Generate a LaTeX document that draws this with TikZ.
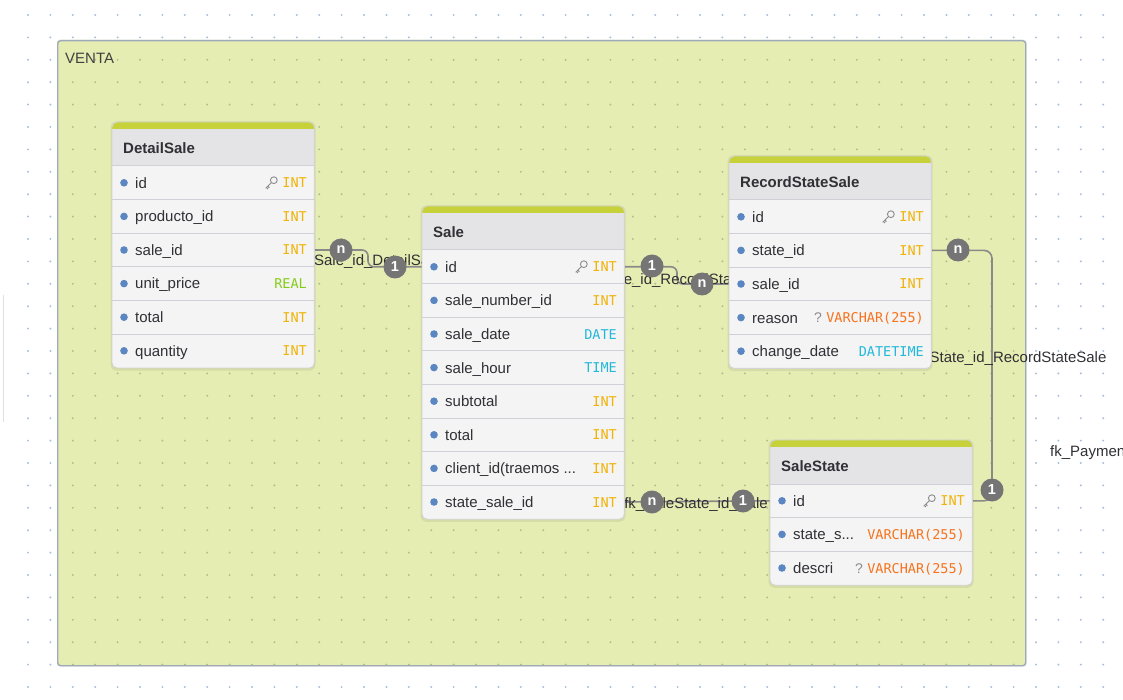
\documentclass[tikz,border=0pt]{standalone}
\usepackage{fontspec}
\setmainfont{Liberation Sans}
\newfontfamily\monof{DejaVu Sans Mono}
\definecolor{framefill}{HTML}{E6EDB2}
\definecolor{frameline}{HTML}{9FA9BA}
\definecolor{griddot}{HTML}{A9BFDB}
\definecolor{griddotin}{HTML}{AFC08F}
\definecolor{hdrfill}{HTML}{E4E4E7}
\definecolor{rowfill}{HTML}{F4F4F5}
\definecolor{sepcol}{HTML}{D0D0D6}
\definecolor{barcol}{HTML}{C7D23A}
\definecolor{tint}{HTML}{F0B306}
\definecolor{treal}{HTML}{86CB17}
\definecolor{tdate}{HTML}{22B8D8}
\definecolor{tvarc}{HTML}{F7731C}
\definecolor{bulletcol}{HTML}{5A86C2}
\definecolor{conncol}{HTML}{8A8A8A}
\definecolor{badgecol}{HTML}{757575}
\definecolor{txtcol}{HTML}{303035}
\tikzset{
  tabbody/.style={rectangle, rounded corners=5, fill=rowfill, minimum width=202, inner sep=0, anchor=north west},
  tabborder/.style={draw=black!17, line width=0.9},
  sepline/.style={draw=sepcol, line width=1.0},
  rowbox/.style={rectangle, minimum width=202, minimum height=33.6, inner sep=0, anchor=west},
  fieldtxt/.style={anchor=base west, inner sep=0, text=txtcol, font=\fontsize{15}{18}\selectfont},
  typetxt/.style={anchor=base east, inner sep=0, font=\monof\fontsize{13.5}{16}\selectfont},
  qmark/.style={anchor=base, inner sep=0, text=black!45, font=\fontsize{14}{16}\selectfont},
  titletxt/.style={anchor=base west, inner sep=0, text=txtcol, font=\bfseries\fontsize{15}{18}\selectfont},
  connline/.style={draw=conncol, line width=1.6},
  badge/.style={circle, fill=badgecol, text=white, inner sep=0, minimum size=23, font=\bfseries\fontsize{14.5}{16}\selectfont},
  elabel/.style={inner sep=0, text=txtcol, font=\fontsize{15}{18}\selectfont},
  keyicon/.pic={
    \draw[black!45, line width=0.9] (2.6,-2.6) circle (3.4);
    \draw[black!45, line width=0.9] (0.2,-0.2) -- (-5.5,5.5);
    \draw[black!45, line width=0.9] (-3.4,3.4) -- (-1.8,5.0);
    \draw[black!45, line width=0.9] (-4.7,4.7) -- (-3.1,6.3);
  }
}
\newcommand\ertab[5]{%
  \pgfmathsetmacro\tabH{44+#5*33.6}
  \fill[black, opacity=0.07, rounded corners=6] (#2-1.5,#3-0.5) rectangle (#2+203.5,#3+\tabH+3);
  \node[tabbody, minimum height=\tabH] (#1) at (#2,#3) {};
  \fill[barcol, rounded corners=5] (#1.north west) rectangle ([yshift=-14pt]#1.north east);
  \fill[hdrfill] ([yshift=-7pt]#1.north west) rectangle ([yshift=-44pt]#1.north east);
  \foreach \k in {1,...,#5} {\draw[sepline] ([yshift={-44-(\k-1)*33.6}]#1.north west) -- ++(202,0);}
  \draw[tabborder, rounded corners=5] (#1.north west) rectangle (#1.south east);
  \node[titletxt] (#1-title) at ([xshift=11pt,yshift=-31.5pt]#1.north west) {#4};
}
\newcommand\errow[8]{%
  \node[rowbox] (#1-#2) at (#3,#4) {};
  \fill[bulletcol] (#3+12,#4) circle (3.8);
  \node[fieldtxt] (#1-#2-f) at (#3+23,#4+5.4) {#5};
  \node[typetxt, text=#7] (#1-#2-t) at (#3+195,#4+5.0) {#6};
  \ifcase#8\or\pic at ([xshift=-11pt,yshift=5pt]#1-#2-t.base west) {keyicon};\or\node[qmark] at ([xshift=-8pt]#1-#2-t.base west) {?};\fi
}
\begin{document}
\begin{tikzpicture}[x=1pt,y=-1pt]
\useasboundingbox (0,0) rectangle (1123,700);
\fill[white] (0,0) rectangle (1123,700);
% background dot grid
\foreach \i in {0,...,48} {\foreach \j in {0,...,30} {\fill[griddot] (28+\i*22.4,15+\j*22.4) circle (1.1);}}
\draw[black!12, line width=1] (3.5,295) -- (3.5,422);
% frame VENTA
\fill[black, opacity=0.10, rounded corners=3] (57,40) rectangle (1026.5,666.5);
\fill[framefill, rounded corners=3] (57,40) rectangle (1025,665);
\foreach \i in {2,...,44} {\foreach \j in {2,...,29} {\fill[griddotin] (28+\i*22.4,15+\j*22.4) circle (1.1);}}
\node[draw=frameline, line width=1.4, rounded corners=3, minimum width=968, minimum height=625, inner sep=0, anchor=north west] (venta) at (57,40) {};
\node[elabel, anchor=west, text=black!75] (ventalbl) at (65,58) {VENTA};
\pgfdeclarelayer{conn}
\pgfdeclarelayer{tabs}
\pgfsetlayers{main,conn,tabs}
\begin{pgfonlayer}{tabs}
% DetailSale
\ertab{ds}{112}{122}{DetailSale}{6}
\errow{ds}{1}{112}{182.8}{id}{INT}{tint}{1}
\errow{ds}{2}{112}{216.4}{producto\_id}{INT}{tint}{0}
\errow{ds}{3}{112}{250.0}{sale\_id}{INT}{tint}{0}
\errow{ds}{4}{112}{283.6}{unit\_price}{REAL}{treal}{0}
\errow{ds}{5}{112}{317.2}{total}{INT}{tint}{0}
\errow{ds}{6}{112}{350.8}{quantity}{INT}{tint}{0}
% Sale
\ertab{sale}{422}{206}{Sale}{8}
\errow{sale}{1}{422}{266.8}{id}{INT}{tint}{1}
\errow{sale}{2}{422}{300.4}{sale\_number\_id}{INT}{tint}{0}
\errow{sale}{3}{422}{334.0}{sale\_date}{DATE}{tdate}{0}
\errow{sale}{4}{422}{367.6}{sale\_hour}{TIME}{tdate}{0}
\errow{sale}{5}{422}{401.2}{subtotal}{INT}{tint}{0}
\errow{sale}{6}{422}{434.8}{total}{INT}{tint}{0}
\errow{sale}{7}{422}{468.4}{client\_id(traemos ...}{INT}{tint}{0}
\errow{sale}{8}{422}{502.0}{state\_sale\_id}{INT}{tint}{0}
% RecordStateSale
\ertab{rss}{729}{156}{RecordStateSale}{5}
\errow{rss}{1}{729}{216.8}{id}{INT}{tint}{1}
\errow{rss}{2}{729}{250.4}{state\_id}{INT}{tint}{0}
\errow{rss}{3}{729}{284.0}{sale\_id}{INT}{tint}{0}
\errow{rss}{4}{729}{317.6}{reason}{VARCHAR(255)}{tvarc}{2}
\errow{rss}{5}{729}{351.2}{change\_date}{DATETIME}{tdate}{0}
% SaleState
\ertab{ss}{770}{440}{SaleState}{3}
\errow{ss}{1}{770}{500.8}{id}{INT}{tint}{1}
\errow{ss}{2}{770}{534.4}{state\_s...}{VARCHAR(255)}{tvarc}{0}
\errow{ss}{3}{770}{568.0}{descri}{VARCHAR(255)}{tvarc}{2}
\end{pgfonlayer}
\begin{pgfonlayer}{conn}
% connectors
\draw[connline, rounded corners=6] (ds-3.east) -- (368,250) -- (368,266.8) -- (sale-1.west);
\draw[connline, rounded corners=6] (sale-1.east) -- (677,266.8) -- (677,284) -- (rss-3.west);
\draw[connline] (sale-8.east) -- (ss-1.west);
\draw[connline, rounded corners=8] (rss-2.east) -- (992,250.4) -- (992,500.8) -- (ss-1.east);
% labels
\node[elabel] (l1) at (367.5,262) {fk\_Sale\_id\_DetailSale};
\node[elabel] (l2) at (678,281) {fk\_Sale\_id\_RecordStateSale};
\node[elabel] (l3) at (696,505) {fk\_SaleState\_id\_Sale};
\node[elabel] (l4) at (993,359) {fk\_SaleState\_id\_RecordStateSale};
\node[elabel, anchor=west] (l5) at (1050,453) {fk\_PaymentState\_id\_Sale};
% badges
\node[badge] (b1n) at (341,250) {n};
\node[badge] (b11) at (395,267) {1};
\node[badge] (b21) at (652,266) {1};
\node[badge] (b2n) at (702,284) {n};
\node[badge] (b3n) at (652,502) {n};
\node[badge] (b31) at (743,501) {1};
\node[badge] (b4n) at (958,250) {n};
\node[badge] (b41) at (992,490) {1};
\end{pgfonlayer}
\end{tikzpicture}
\end{document}
